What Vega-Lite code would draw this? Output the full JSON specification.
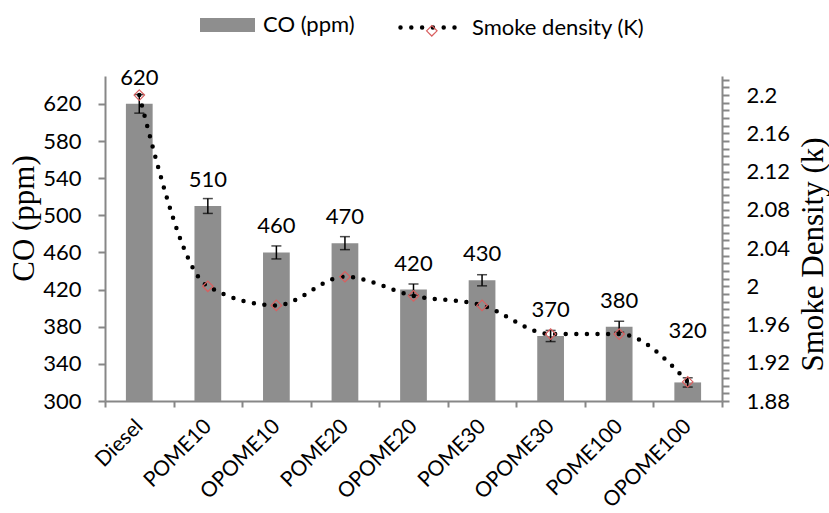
{
  "$schema": "https://vega.github.io/schema/vega-lite/v6.json",
  "width": 617,
  "height": 325,
  "autosize": "none",
  "padding": {"left": 105, "top": 76, "right": 107, "bottom": 112},
  "background": "white",
  "config": {
    "view": {"stroke": null},
    "font": "Lato",
    "axis": {
      "labelFont": "Lato", "labelFontSize": 22, "labelColor": "#000000",
      "domainColor": "#878787", "tickColor": "#878787", "domainWidth": 2, "tickWidth": 2,
      "grid": false,
      "titleFont": "Liberation Serif", "titleFontSize": 31, "titleFontWeight": "normal", "titleColor": "#000000"
    },
    "legend": {"labelFont": "Lato", "labelFontSize": 22, "labelColor": "#000000", "padding": 0, "title": null, "labelLimit": 0}
  },
  "data": {
    "values": [
      {"fuel": "Diesel", "co": 620, "lo": 610, "hi": 630, "smoke": 2.2},
      {"fuel": "POME10", "co": 510, "lo": 502, "hi": 518, "smoke": 2.0},
      {"fuel": "OPOME10", "co": 460, "lo": 453, "hi": 467, "smoke": 1.98},
      {"fuel": "POME20", "co": 470, "lo": 463, "hi": 477, "smoke": 2.01},
      {"fuel": "OPOME20", "co": 420, "lo": 414, "hi": 426, "smoke": 1.99},
      {"fuel": "POME30", "co": 430, "lo": 424, "hi": 436, "smoke": 1.98},
      {"fuel": "OPOME30", "co": 370, "lo": 364, "hi": 376, "smoke": 1.95},
      {"fuel": "POME100", "co": 380, "lo": 374, "hi": 386, "smoke": 1.95},
      {"fuel": "OPOME100", "co": 320, "lo": 315, "hi": 325, "smoke": 1.9}
    ]
  },
  "encoding": {
    "x": {
      "field": "fuel", "type": "nominal", "sort": null,
      "scale": {"paddingInner": 0, "paddingOuter": 0},
      "axis": {
        "title": null, "labelAngle": -45, "labelAlign": "right", "labelBaseline": "middle",
        "labelPadding": 16, "labelFontSize": 21, "tickSize": 6, "tickBand": "extent"
      }
    }
  },
  "layer": [
    {
      "layer": [
        {
          "mark": {"type": "bar", "width": {"band": 0.39}},
          "encoding": {
            "y": {
              "field": "co", "type": "quantitative",
              "scale": {"domain": [300, 650], "nice": false, "zero": false},
              "axis": {
                "title": "CO (ppm)", "values": [300, 340, 380, 420, 460, 500, 540, 580, 620],
                "tickSize": 7, "labelPadding": 17,
                "titleX": -81, "titleY": 142, "titleAngle": 270, "titleAlign": "center", "titleBaseline": "middle"
              }
            },
            "y2": {"datum": 300},
            "fill": {
              "datum": "CO (ppm)", "type": "nominal",
              "scale": {"range": ["#8e8e8e"]},
              "legend": {
                "orient": "none", "legendX": 95, "legendY": -78.5,
                "symbolType": "M-1,-0.255H1V0.255H-1Z", "symbolSize": 3025,
                "symbolStrokeWidth": 0, "labelOffset": 8
              }
            }
          }
        },
        {
          "mark": {"type": "rule", "color": "#000000", "strokeWidth": 1.5},
          "encoding": {
            "y": {
              "field": "lo", "type": "quantitative",
              "axis": {
                "title": "CO (ppm)", "values": [300, 340, 380, 420, 460, 500, 540, 580, 620],
                "tickSize": 7, "labelPadding": 17,
                "titleX": -81, "titleY": 142, "titleAngle": 270, "titleAlign": "center", "titleBaseline": "middle"
              }
            },
            "y2": {"field": "hi"}
          }
        },
        {
          "mark": {"type": "tick", "color": "#000000", "thickness": 1.5, "size": 10},
          "encoding": {
            "y": {
              "field": "lo", "type": "quantitative",
              "axis": {
                "title": "CO (ppm)", "values": [300, 340, 380, 420, 460, 500, 540, 580, 620],
                "tickSize": 7, "labelPadding": 17,
                "titleX": -81, "titleY": 142, "titleAngle": 270, "titleAlign": "center", "titleBaseline": "middle"
              }
            }
          }
        },
        {
          "mark": {"type": "tick", "color": "#000000", "thickness": 1.5, "size": 10},
          "encoding": {
            "y": {
              "field": "hi", "type": "quantitative",
              "axis": {
                "title": "CO (ppm)", "values": [300, 340, 380, 420, 460, 500, 540, 580, 620],
                "tickSize": 7, "labelPadding": 17,
                "titleX": -81, "titleY": 142, "titleAngle": 270, "titleAlign": "center", "titleBaseline": "middle"
              }
            }
          }
        },
        {
          "transform": [{"filter": "datum.fuel !== 'OPOME100'"}],
          "mark": {"type": "text", "font": "Lato", "fontSize": 22, "color": "#000000", "baseline": "middle", "dy": -26},
          "encoding": {
            "y": {
              "field": "co", "type": "quantitative",
              "axis": {
                "title": "CO (ppm)", "values": [300, 340, 380, 420, 460, 500, 540, 580, 620],
                "tickSize": 7, "labelPadding": 17,
                "titleX": -81, "titleY": 142, "titleAngle": 270, "titleAlign": "center", "titleBaseline": "middle"
              }
            },
            "text": {"field": "co", "type": "quantitative"}
          }
        },
        {
          "transform": [{"filter": "datum.fuel === 'OPOME100'"}],
          "mark": {"type": "text", "font": "Lato", "fontSize": 22, "color": "#000000", "baseline": "middle", "dy": -51},
          "encoding": {
            "y": {
              "field": "co", "type": "quantitative",
              "axis": {
                "title": "CO (ppm)", "values": [300, 340, 380, 420, 460, 500, 540, 580, 620],
                "tickSize": 7, "labelPadding": 17,
                "titleX": -81, "titleY": 142, "titleAngle": 270, "titleAlign": "center", "titleBaseline": "middle"
              }
            },
            "text": {"field": "co", "type": "quantitative"}
          }
        }
      ]
    },
    {
      "layer": [
        {
          "mark": {"type": "line", "interpolate": "monotone", "strokeDash": [0, 10.6], "strokeCap": "round", "strokeWidth": 4.5},
          "encoding": {
            "y": {
              "field": "smoke", "type": "quantitative",
              "scale": {"domain": [1.88, 2.22], "nice": false, "zero": false},
              "axis": {
                "orient": "right", "title": "Smoke Density (k)",
                "values": [1.88, 1.888, 1.896, 1.904, 1.912, 1.92, 1.928, 1.936, 1.944, 1.952, 1.96, 1.968, 1.976, 1.984, 1.992, 2.0, 2.008, 2.016, 2.024, 2.032, 2.04, 2.048, 2.056, 2.064, 2.072, 2.08, 2.088, 2.096, 2.104, 2.112, 2.12, 2.128, 2.136, 2.144, 2.152, 2.16, 2.168, 2.176, 2.184, 2.192, 2.2, 2.208, 2.216],
                "labelExpr": "abs(datum.value*25 - round(datum.value*25)) < 0.01 ? format(datum.value, '.2~f') : ''",
                "tickSize": 7, "labelPadding": 17,
                "titleX": 91, "titleY": 178, "titleAngle": 270, "titleAlign": "center", "titleBaseline": "middle"
              }
            },
            "stroke": {
              "datum": "Smoke density (K)", "type": "nominal",
              "scale": {"range": ["#000000"]},
              "legend": {
                "orient": "none", "legendX": 293, "legendY": -78.5,
                "symbolType": "stroke", "symbolSize": 3025, "symbolStrokeWidth": 4.5,
                "symbolDash": [0, 10.8], "labelOffset": 14, "labelLimit": 0,
                "encode": {"symbols": {"update": {"strokeCap": {"value": "round"}}}}
              }
            }
          }
        },
        {
          "mark": {"type": "point", "filled": false, "stroke": "#d95f5f", "strokeWidth": 1.2, "size": 110, "opacity": 1},
          "encoding": {
            "y": {
              "field": "smoke", "type": "quantitative",
              "axis": {
                "orient": "right", "title": "Smoke Density (k)",
                "values": [1.88, 1.888, 1.896, 1.904, 1.912, 1.92, 1.928, 1.936, 1.944, 1.952, 1.96, 1.968, 1.976, 1.984, 1.992, 2.0, 2.008, 2.016, 2.024, 2.032, 2.04, 2.048, 2.056, 2.064, 2.072, 2.08, 2.088, 2.096, 2.104, 2.112, 2.12, 2.128, 2.136, 2.144, 2.152, 2.16, 2.168, 2.176, 2.184, 2.192, 2.2, 2.208, 2.216],
                "labelExpr": "abs(datum.value*25 - round(datum.value*25)) < 0.01 ? format(datum.value, '.2~f') : ''",
                "tickSize": 7, "labelPadding": 17,
                "titleX": 91, "titleY": 178, "titleAngle": 270, "titleAlign": "center", "titleBaseline": "middle"
              }
            },
            "shape": {
              "datum": "marker", "type": "nominal",
              "scale": {"range": ["diamond"]},
              "legend": {
                "orient": "none", "legendX": 315.8, "legendY": -56.2,
                "symbolSize": 110, "symbolStrokeColor": "#d95f5f", "symbolFillColor": "transparent",
                "symbolStrokeWidth": 1.2, "labelExpr": "''"
              }
            }
          }
        }
      ]
    }
  ],
  "resolve": {"scale": {"y": "independent"}}
}
